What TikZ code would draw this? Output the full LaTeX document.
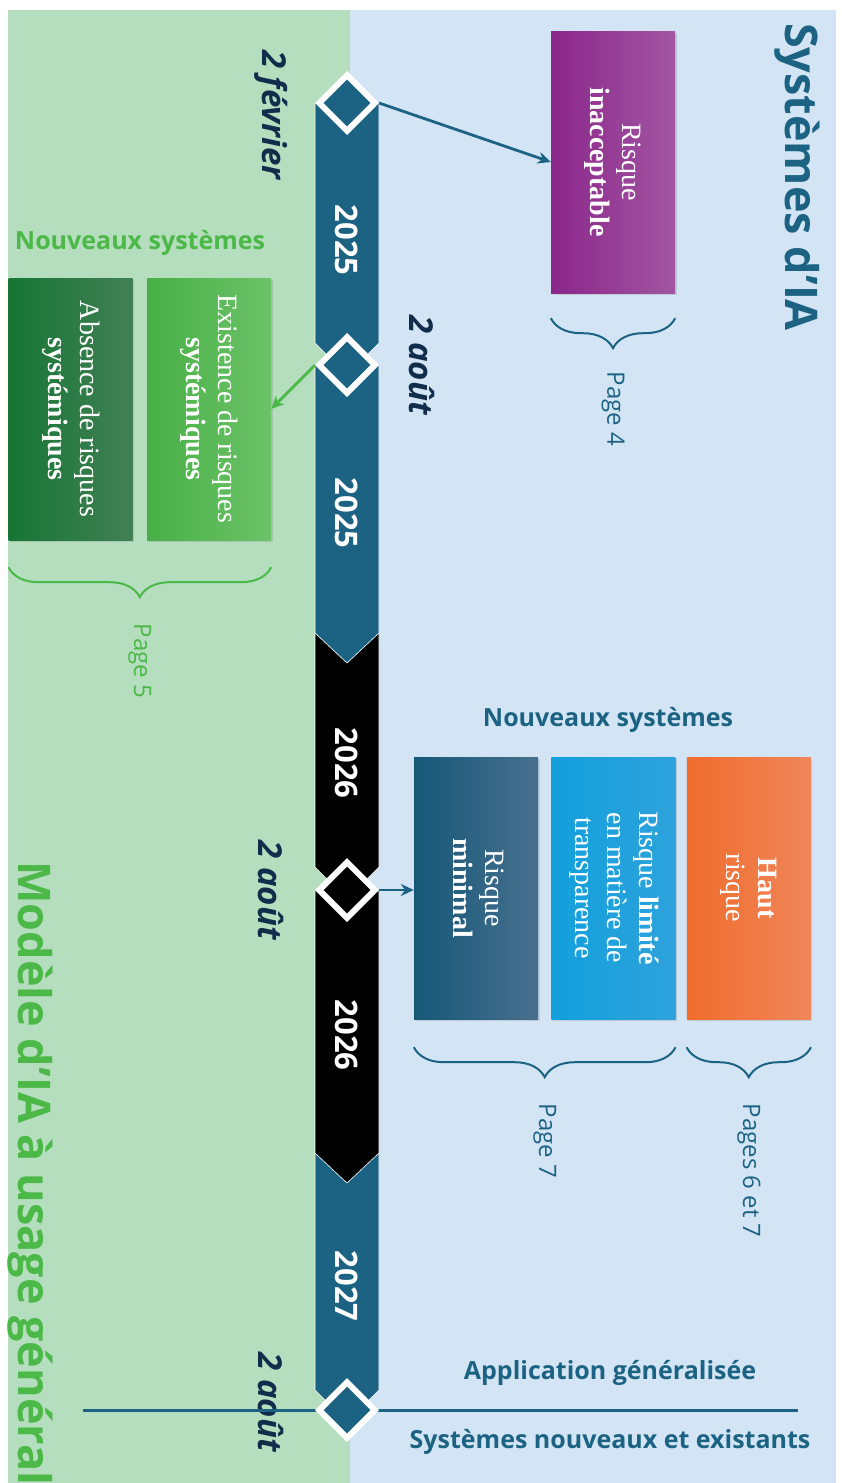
\documentclass[tikz,border=0pt]{standalone}
\usepackage{fontspec}
\setmainfont{Liberation Serif}
\setsansfont{Open Sans}
\usetikzlibrary{positioning,calc,shapes.geometric,arrows.meta,decorations.pathreplacing,shadows}
\definecolor{MintBg}{RGB}{180,222,190}
\definecolor{SkyBg}{RGB}{211,229,245}
\definecolor{TealBar}{RGB}{28,99,131}
\definecolor{NavyDate}{RGB}{18,45,75}
\definecolor{LeafGreen}{RGB}{76,184,72}
\definecolor{PlumL}{RGB}{139,38,139}
\definecolor{PlumR}{RGB}{162,86,162}
\definecolor{GrassL}{RGB}{72,176,70}
\definecolor{GrassR}{RGB}{108,194,104}
\definecolor{ForestL}{RGB}{22,118,52}
\definecolor{ForestR}{RGB}{66,128,86}
\definecolor{DeepL}{RGB}{22,87,120}
\definecolor{DeepR}{RGB}{72,112,142}
\definecolor{CyanL}{RGB}{18,160,220}
\definecolor{CyanR}{RGB}{46,162,220}
\definecolor{FlameL}{RGB}{240,108,44}
\definecolor{FlameR}{RGB}{240,134,90}
\newcommand{\rotlines}[1]{\rotatebox{-90}{\begin{tabular}{@{}c@{}}#1\end{tabular}}}

\begin{document}
\begin{tikzpicture}[
  x=1pt, y=-1pt,
  riskbox/.style={
    rectangle, inner sep=0pt, minimum width=124pt, minimum height=262pt,
    text=white, font=\fontsize{28}{32}\selectfont,
    drop shadow={opacity=0.25, shadow xshift=1.5pt, shadow yshift=-1.5pt}
  },
  milestone/.style={
    diamond, draw=white, line width=6pt, minimum size=58pt, inner sep=0pt
  },
  yearlbl/.style={rotate=-90, text=white, font=\sffamily\bfseries\fontsize{31}{36}\selectfont},
  datelbl/.style={rotate=-90, text=NavyDate, font=\sffamily\bfseries\itshape\fontsize{33}{40}\selectfont},
  pagelbl/.style={rotate=-90, anchor=west, font=\sffamily\fontsize{24}{28}\selectfont},
  grouplbl/.style={font=\sffamily\bfseries\fontsize{25}{30}\selectfont},
  titlelbl/.style={rotate=-90, font=\sffamily\bfseries\fontsize{45}{54}\selectfont},
  seg/.style={draw=white!60, line width=0.6pt},
  arr/.style={->, >={Stealth[length=13pt,width=12pt]}, line width=2.8pt},
  brc/.style={decorate, decoration={brace, mirror, amplitude=30pt}, line width=2pt}
]

%% Page and the two halves
\useasboundingbox (0,0) rectangle (842,1483);
\fill[white] (0,0) rectangle (842,1483);
\fill[MintBg] (8,10) rectangle (350,1483);
\fill[SkyBg] (350,10) rectangle (836,1483);

%% Timeline bar, bottom segment first
\fill[TealBar, seg] (315,1153) -- (379,1153) -- (379,1390) -- (347,1422) -- (315,1390) -- cycle;
\fill[black, seg] (315,890) -- (379,890) -- (379,1153) -- (347,1183) -- (315,1153) -- cycle;
\fill[black, seg] (315,633) -- (379,633) -- (379,867) -- (347,899) -- (315,867) -- cycle;
\fill[TealBar, seg] (315,365) -- (379,365) -- (379,633) -- (347,663) -- (315,633) -- cycle;
\fill[TealBar, seg] (315,103) -- (379,103) -- (379,343) -- (347,375) -- (315,343) -- cycle;

%% Dates
\node[datelbl] (t1) at (271,115) {2 février};
\node[datelbl] (t2) at (422,365) {2 août};
\node[datelbl] (t3) at (271,890) {2 août};
\node[datelbl] (t4) at (271,1402) {2 août};

%% Rule of the general application
\coordinate (lnL) at (83,1410);
\coordinate (lnR) at (798,1410);
\draw[TealBar, line width=3pt] (lnL) -- (lnR);

%% Milestones
\node[milestone, fill=TealBar] (d1) at (347,103) {};
\node[milestone, fill=TealBar] (d2) at (347,365) {};
\node[milestone, fill=black] (d3) at (347,890) {};
\node[milestone, fill=TealBar] (d4) at (347,1410) {};

%% Years
\node[yearlbl] (y1) at (347,240) {2025};
\node[yearlbl] (y2) at (347,513) {2025};
\node[yearlbl] (y3) at (347,763) {2026};
\node[yearlbl] (y4) at (347,1035) {2026};
\node[yearlbl] (y5) at (347,1286) {2027};

%% Titles
\node[titlelbl, text=TealBar] (ttlA) at (797,177) {Systèmes d’IA};
\node[titlelbl, anchor=west, text=LeafGreen] (ttlB) at (30,858) {Modèle d’IA à usage général};

%% Risk boxes
\node[riskbox, left color=PlumL, right color=PlumR] (pur) at (613,162) {\rotlines{Risque\\\textbf{inacceptable}}};
\node[riskbox, left color=GrassL, right color=GrassR] (ex) at (209,409) {\rotlines{Existence de risques\\\textbf{systémiques}}};
\node[riskbox, left color=ForestL, right color=ForestR, left=14pt of ex] (ab) {\rotlines{Absence de risques\\\textbf{systémiques}}};
\node[riskbox, left color=DeepL, right color=DeepR] (mn) at (476,888) {\rotlines{Risque\\\textbf{minimal}}};
\node[riskbox, left color=CyanL, right color=CyanR, right=13pt of mn] (lt) {\rotlines{Risque \textbf{limité}\\en matière de\\transparence}};
\node[riskbox, left color=FlameL, right color=FlameR, right=11pt of lt] (ht) {\rotlines{\textbf{Haut}\\risque}};

%% Group headings
\node[grouplbl, text=LeafGreen] (ngA) at (140,243) {Nouveaux systèmes};
\node[grouplbl, text=TealBar] (ngB) at (608,720) {Nouveaux systèmes};
\node[grouplbl, text=TealBar] (app) at (610,1373) {Application généralisée};
\node[grouplbl, text=TealBar] (sne) at (610,1442) {Systèmes nouveaux et existants};

%% Arrows
\draw[arr, TealBar] (d1.east) -- (pur.west);
\draw[arr, LeafGreen] (d2.west) -- (ex.east);
\draw[arr, TealBar] (d3.east) -- (d3.east -| mn.west);

%% Braces and pages
\draw[brc, TealBar] ([yshift=-25pt]pur.south west) -- ([yshift=-25pt]pur.south east);
\node[pagelbl, text=TealBar] (p4) at ([yshift=-75pt]pur.south) {Page 4};

\draw[brc, LeafGreen] ([yshift=-27pt]ab.south west) -- ([yshift=-27pt]ex.south east);
\coordinate (b5) at ($(ab.south)!0.5!(ex.south)$);
\node[pagelbl, text=LeafGreen] (p5) at ([yshift=-80pt]b5) {Page 5};

\draw[brc, TealBar] ([yshift=-28pt]mn.south west) -- ([yshift=-28pt]lt.south east);
\coordinate (b7) at ($(mn.south)!0.5!(lt.south)$);
\node[pagelbl, text=TealBar] (p7) at ([yshift=-81pt]b7) {Page 7};

\draw[brc, TealBar] ([yshift=-28pt]ht.south west) -- ([yshift=-28pt]ht.south east);
\node[pagelbl, text=TealBar] (p67) at ([yshift=-81pt]ht.south) {Pages 6 et 7};

\end{tikzpicture}
\end{document}
